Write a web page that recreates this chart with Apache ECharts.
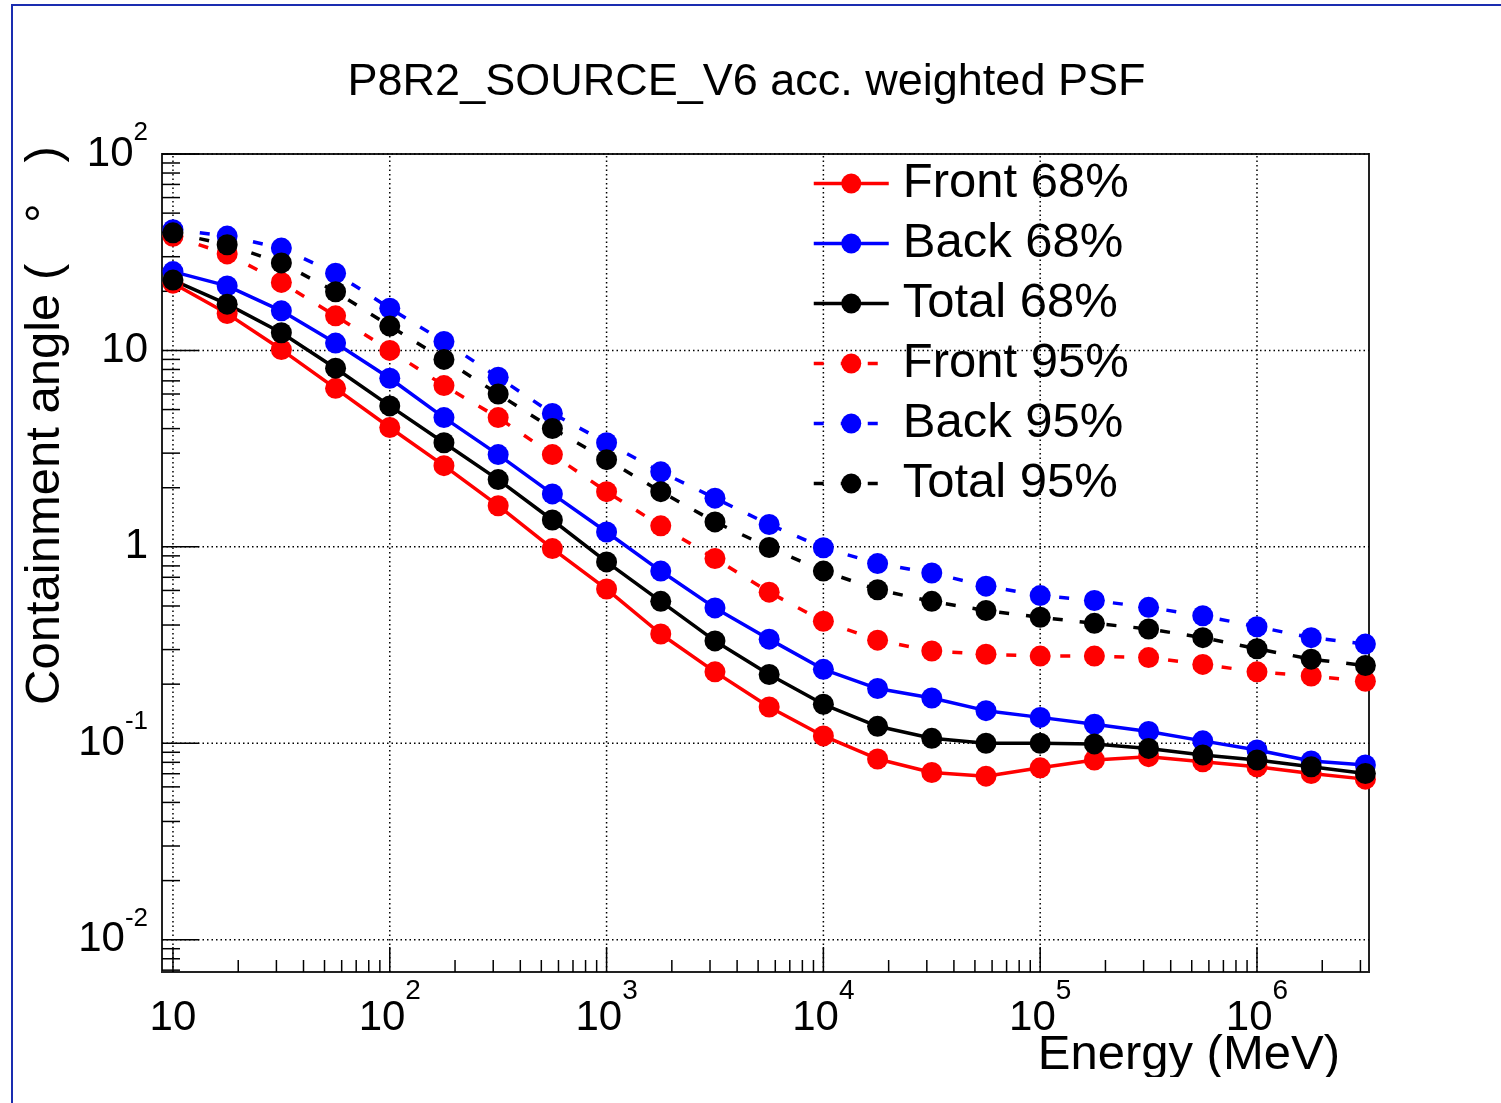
<!DOCTYPE html>
<html><head><meta charset="utf-8">
<script src="https://cdn.jsdelivr.net/npm/echarts@6/dist/echarts.min.js"></script>
<style>
html,body{margin:0;padding:0;background:#fff;width:1501px;height:1103px;overflow:hidden;position:relative}
#chart{position:absolute;left:0;top:0;width:1501px;height:1077px}
.bl{position:absolute;left:11px;top:4px;width:2px;height:1099px;background:#1a2db0}
.bt{position:absolute;left:11px;top:4px;width:1490px;height:2px;background:#1a2db0}
</style></head><body>
<div id="chart"></div><div class="bl"></div><div class="bt"></div>
<script>
// ---- data ----
const titleText = 'P8R2_SOURCE_V6 acc. weighted PSF';
const xTitle = 'Energy (MeV)';
const yTitle = 'Containment angle (   \u00B0   )';
const energies = [10, 17.78, 31.62, 56.23, 100, 177.8, 316.2, 562.3, 1000, 1778, 3162, 5623, 10000, 17783, 31623, 56234, 100000, 177828, 316228, 562341, 1000000, 1778279, 3162278];
const front68 = [22.0, 15.4, 10.1, 6.41, 4.05, 2.59, 1.62, 0.98, 0.61, 0.360, 0.231, 0.153, 0.109, 0.0832, 0.071, 0.068, 0.075, 0.0822, 0.0855, 0.0805, 0.076, 0.0702, 0.0657];
const back68  = [25.2, 21.3, 15.9, 10.9, 7.22, 4.55, 2.95, 1.86, 1.19, 0.753, 0.489, 0.339, 0.238, 0.190, 0.170, 0.1466, 0.1355, 0.125, 0.1148, 0.1029, 0.0925, 0.0813, 0.0775];
const total68 = [22.8, 17.2, 12.3, 8.12, 5.22, 3.39, 2.20, 1.37, 0.838, 0.528, 0.332, 0.224, 0.158, 0.122, 0.106, 0.100, 0.100, 0.0993, 0.0942, 0.0872, 0.0822, 0.0760, 0.0702];
const front95 = [38.1, 31.0, 22.2, 15.0, 10.0, 6.62, 4.55, 2.95, 1.91, 1.28, 0.872, 0.588, 0.418, 0.335, 0.295, 0.284, 0.278, 0.278, 0.273, 0.252, 0.231, 0.220, 0.207];
const back95  = [41.2, 38.2, 33.2, 24.7, 16.4, 11.1, 7.3, 4.78, 3.39, 2.41, 1.77, 1.30, 0.99, 0.822, 0.736, 0.631, 0.565, 0.533, 0.492, 0.446, 0.392, 0.345, 0.320];
const total95 = [39.7, 34.5, 27.9, 19.9, 13.3, 9.0, 6.0, 4.0, 2.78, 1.91, 1.34, 0.993, 0.753, 0.605, 0.528, 0.474, 0.438, 0.408, 0.382, 0.345, 0.303, 0.268, 0.249];
const seriesNames = ['Front 68%', 'Back 68%', 'Total 68%', 'Front 95%', 'Back 95%', 'Total 95%'];
const xDecades = [10, 100, 1000, 10000, 100000, 1000000];
const yDecades = [0.001, 0.01, 0.1, 1, 10, 100];
const minorMult = [2, 3, 4, 5, 6, 7, 8, 9];
const X_MIN = 8.90, X_MAX = 3.286e6, Y_MIN = 0.00685, Y_MAX = 100;

// ---- build ----
const FONT = '"Liberation Sans", Arial, Helvetica, sans-serif';
const seriesValues = [front68, back68, total68, front95, back95, total95];
const colors = ['#ff0000', '#0000ff', '#000000', '#ff0000', '#0000ff', '#000000'];
const DASH = [10, 17];

function inRange(v, lo, hi) { return v >= lo * 1.0001 && v <= hi * 0.9999; }
const xTickData = [], yTickData = [];
xDecades.forEach(d => {
  if (inRange(d, X_MIN, X_MAX)) xTickData.push([d, Y_MIN, 1]);
  minorMult.forEach(m => { const v = d * m; if (inRange(v, X_MIN, X_MAX)) xTickData.push([v, Y_MIN, 0]); });
});
yDecades.forEach(d => {
  if (inRange(d, Y_MIN, Y_MAX * 1.001)) yTickData.push([X_MIN, d, 1]);
  minorMult.forEach(m => { const v = d * m; if (inRange(v, Y_MIN, Y_MAX)) yTickData.push([X_MIN, v, 0]); });
});
const xGridData = xDecades.filter(d => inRange(d, X_MIN, X_MAX)).map(d => [d, Y_MIN]);
const yGridData = yDecades.filter(d => inRange(d, Y_MIN, Y_MAX * 1.001)).map(d => [X_MIN, d]);

const gridStyle = { stroke: '#000', lineWidth: 1.5, lineDash: [1.5, 3] };
const tickStyle = { stroke: '#000', lineWidth: 1.5 };

function isDecade(v) { const l = Math.log10(v); return Math.abs(l - Math.round(l)) < 1e-6; }

const dataSeries = seriesNames.map((name, i) => ({
  name, type: 'line', symbol: 'circle', symbolSize: 21,
  data: energies.map((e, k) => [e, seriesValues[i][k]]),
  lineStyle: { color: colors[i], width: 3.5, type: i < 3 ? 'solid' : DASH },
  itemStyle: { color: colors[i] },
  z: 3, silent: true
}));

const option = {
  animation: false,
  backgroundColor: 'transparent',
  grid: { left: 162, top: 154, right: 132, bottom: 105, show: true, borderColor: '#222', borderWidth: 2, backgroundColor: 'transparent' },
  xAxis: {
    type: 'log', logBase: 10, min: X_MIN, max: X_MAX,
    axisLine: { show: false }, axisTick: { show: false }, splitLine: { show: false },
    axisLabel: {
      margin: 5, color: '#000', fontFamily: FONT, showMinLabel: false, showMaxLabel: false,
      formatter: v => {
        if (!isDecade(v)) return '';
        const e = Math.round(Math.log10(v));
        return e === 1 ? '{b|10}' : '{b|10}{s|' + e + '}';
      },
      rich: {
        b: { fontFamily: FONT, fontSize: 42, lineHeight: 82, color: '#000', verticalAlign: 'middle' },
        s: { fontFamily: FONT, fontSize: 28, lineHeight: 28, color: '#000', verticalAlign: 'top' }
      }
    }
  },
  yAxis: {
    type: 'log', logBase: 10, min: Y_MIN, max: Y_MAX,
    axisLine: { show: false }, axisTick: { show: false }, splitLine: { show: false },
    axisLabel: {
      margin: 14, color: '#000', fontFamily: FONT, showMinLabel: false,
      formatter: v => {
        if (!isDecade(v)) return '';
        const e = Math.round(Math.log10(v));
        if (e === 0) return '{b|1}';
        if (e === 1) return '{b|10}';
        return '{b|10}{s|' + e + '}';
      },
      rich: {
        b: { fontFamily: FONT, fontSize: 42, lineHeight: 68, color: '#000', verticalAlign: 'middle' },
        s: { fontFamily: FONT, fontSize: 26, lineHeight: 26, color: '#000', verticalAlign: 'top' }
      }
    }
  },
  legend: {
    data: seriesNames, orient: 'vertical', left: 812, top: 159, padding: 0,
    itemWidth: 75, itemHeight: 25, itemGap: 11, selectedMode: false,
    lineStyle: { width: 3.5 },
    textStyle: { fontFamily: FONT, fontSize: 49, lineHeight: 48, color: '#000', padding: [0, 0, 0, 9] }
  },
  graphic: [
    { type: 'text', x: 746.5, y: 83, silent: true,
      style: { text: titleText, font: '45px ' + FONT, fill: '#000', align: 'center', verticalAlign: 'middle' } },
    { type: 'text', x: 1340, y: 1055, silent: true,
      style: { text: xTitle, font: '49px ' + FONT, fill: '#000', align: 'right', verticalAlign: 'middle' } },
    { type: 'text', x: 45, y: 705, rotation: Math.PI / 2, silent: true,
      style: { text: yTitle, font: '49px ' + FONT, fill: '#000', align: 'left', verticalAlign: 'middle' } }
  ],
  series: [
    { type: 'custom', name: 'xgrid', silent: true, z: 1, data: xGridData,
      renderItem: (p, api) => { const a = api.coord([api.value(0), Y_MIN]); const b = api.coord([api.value(0), Y_MAX]);
        return { type: 'line', shape: { x1: a[0], y1: a[1], x2: b[0], y2: b[1] }, style: gridStyle }; } },
    { type: 'custom', name: 'ygrid', silent: true, z: 1, data: yGridData,
      renderItem: (p, api) => { const a = api.coord([X_MIN, api.value(1)]); const b = api.coord([X_MAX, api.value(1)]);
        return { type: 'line', shape: { x1: a[0], y1: a[1], x2: b[0], y2: b[1] }, style: gridStyle }; } },
    { type: 'custom', name: 'xticks', silent: true, z: 2, data: xTickData,
      renderItem: (p, api) => { const a = api.coord([api.value(0), api.value(1)]); const len = api.value(2) ? 25 : 12;
        return { type: 'line', shape: { x1: a[0], y1: a[1], x2: a[0], y2: a[1] - len }, style: tickStyle }; } },
    { type: 'custom', name: 'yticks', silent: true, z: 2, data: yTickData,
      renderItem: (p, api) => { const a = api.coord([api.value(0), api.value(1)]); const len = api.value(2) ? 37 : 18;
        return { type: 'line', shape: { x1: a[0], y1: a[1], x2: a[0] + len, y2: a[1] }, style: tickStyle }; } }
  ].concat(dataSeries)
};
const chart = echarts.init(document.getElementById('chart'), null, { renderer: 'canvas' });
chart.setOption(option);
</script>
</body></html>
